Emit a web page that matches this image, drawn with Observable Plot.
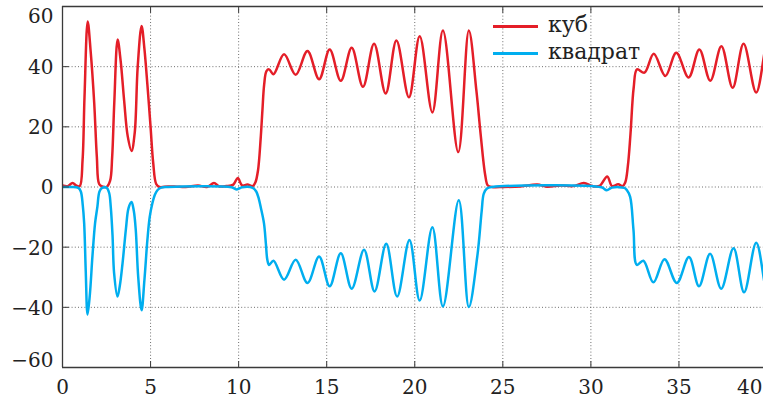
<!DOCTYPE html>
<html>
<head>
<meta charset="utf-8">
<script src="https://cdn.jsdelivr.net/npm/d3@7"></script>
<script src="https://cdn.jsdelivr.net/npm/@observablehq/plot@0.6"></script>
<style>
  html, body { margin: 0; padding: 0; background: white; overflow: hidden; }
  #wrap { position: relative; width: 763px; height: 402px; }
  .legend { position: absolute; left: 493px; top: 8px; font-family: "DejaVu Serif", serif; font-size: 22px; color: #222; }
  .legend .row { position: relative; height: 27px; }
  .legend .sw { position: absolute; left: 0; width: 45px; height: 2.6px; }
  .legend .lb { position: absolute; left: 55px; line-height: 27px; top: 3px; white-space: nowrap; }
</style>
</head>
<body>
<div id="wrap"></div>
<script>
// ---- data ----
const seriesNames = ["куб", "квадрат"];
const seriesColors = ["#e41e28", "#00aeef"];

const cubeX = [0,0.3,0.57,0.8,0.98,1.14,1.25,1.43,1.6,1.8,1.95,2.08,2.25,2.5,2.7,2.82,2.94,3.13,3.3,3.5,3.7,3.92,4.1,4.27,4.49,4.65,4.82,5.0,5.15,5.32,5.5,6.0,6.5,7.0,7.7,8.2,8.6,8.9,9.3,9.7,9.95,10.2,10.5,10.8,10.95,11.1,11.25,11.35,11.45,11.58,11.73,11.98,12.58,13.24,13.91,14.57,15.17,15.8,16.42,17.06,17.69,18.35,18.96,19.67,20.28,21.0,21.6,22.47,23.07,23.5,23.74,24.0,24.15,24.4,25,26,26.96,27.5,28.3,29,29.6,30.1,30.5,30.93,31.2,31.55,31.8,31.95,32.1,32.25,32.43,32.62,33.04,33.57,34.23,34.85,35.55,36.16,36.78,37.41,38.05,38.67,39.39,40.05,40.4];
const cubeY = [0.5,0.3,1.3,0.4,0.3,9,30,55,45,28,10,1,0.2,0,2,10,28,49,42,28.7,17,12,18,40,53.5,46,34,20,8,1,0,0.2,0.1,0,0.5,0,1.3,0.2,0.3,0.8,3,0.5,0.8,0.3,1.5,5.5,16,25.4,34,38.5,39.1,37.5,44.1,37.3,45.2,35.8,45.7,35.3,46.3,33.3,47.6,31.1,48.7,29.8,50.1,24.8,52,11.6,52,32,17.6,4,0.5,0,0,0.2,0.8,0.1,0.5,0.3,1.3,0.3,0.4,3.5,0.3,0.9,0.3,1.5,7,17.7,33,39.1,38,44.3,36.9,44.6,36.4,45.7,35.3,46.8,33,47.6,31.4,49,40];

const squareX = [0,0.5,0.9,1.04,1.15,1.23,1.32,1.42,1.55,1.7,1.85,1.98,2.1,2.25,2.5,2.65,2.74,2.84,2.93,3.12,3.25,3.41,3.6,3.75,3.92,4.05,4.16,4.3,4.49,4.65,4.82,4.95,5.1,5.25,5.4,5.6,6,9.6,9.9,10.2,10.8,11.0,11.15,11.25,11.44,11.55,11.63,11.73,11.98,12.58,13.24,13.91,14.57,15.17,15.8,16.42,17.12,17.72,18.38,19.0,19.7,20.28,21.0,21.6,22.5,23.07,23.55,23.8,23.92,24.1,24.4,30.6,30.9,31.2,31.9,32.04,32.23,32.42,32.61,32.98,33.55,34.18,34.88,35.57,36.14,36.77,37.4,38.1,38.7,39.39,40.05,40.4];
const squareY = [0,0,-0.3,-1.5,-6,-12,-28,-42.4,-36,-23,-12,-6.6,-1.5,-0.3,-0.2,-2,-6.6,-16,-28.6,-36.4,-33,-25.3,-14,-7,-5,-8,-14.3,-30,-41,-31,-17.6,-10,-5.5,-2.5,-1,-0.2,0,-0.1,-0.8,-0.1,-0.3,-1.5,-4,-6.6,-12.1,-19,-24.2,-25.9,-24.5,-30.8,-24.2,-31.9,-23.1,-33,-22,-33.8,-20.9,-34.7,-18.9,-36.4,-17.6,-37.7,-13.4,-39.7,-4.4,-39.9,-23.1,-8,-2.2,-0.5,0,-0.1,-1.1,-0.2,-0.3,-1,-3.3,-14.3,-25.9,-24.5,-31.7,-24,-31.9,-23.3,-33,-22.2,-33.8,-20.4,-35,-18.5,-36,-28];

const xTicks = [0,5,10,15,20,25,30,35,40];
const yTicks = [-60,-40,-20,0,20,40,60];
const yTickLabels = ["\u221260","\u221240","\u221220","0","20","40","60"];
const xTickLabels = ["0","5","10","15","20","25","30","35","40"];

// ---- build ----
const cube = cubeX.map((x, i) => ({x, y: cubeY[i]}));
const square = squareX.map((x, i) => ({x, y: squareY[i]}));
const axisColor = "#3a3a3a";
const gridStyle = {stroke: "#6e6e6e", strokeOpacity: 1, strokeWidth: 1, strokeDasharray: "1,2.2"};
const tickShape = {draw(ctx, l) { ctx.moveTo(0, 0); ctx.lineTo(0, -l); }};
const yLab = d => yTickLabels[yTicks.indexOf(d)];
const xLab = d => xTickLabels[xTicks.indexOf(d)];
const labelStyle = {fill: "#222", lineAnchor: "middle"};

const chart = Plot.plot({
  width: 763,
  height: 402,
  marginLeft: 62,
  marginRight: -3.5,
  marginTop: 6,
  marginBottom: 35,
  x: {domain: [0, 40], axis: null},
  y: {domain: [-60, 60], axis: null},
  style: {fontFamily: "'DejaVu Serif', serif", fontSize: "20px", background: "white", color: "#222", overflow: "hidden"},
  marks: [
    Plot.gridX(xTicks, gridStyle),
    Plot.gridY(yTicks, gridStyle),
    Plot.line(cube, {x: "x", y: "y", stroke: seriesColors[0], strokeWidth: 2.5, curve: "catmull-rom", clip: true}),
    Plot.line(square, {x: "x", y: "y", stroke: seriesColors[1], strokeWidth: 2.5, curve: "catmull-rom", clip: true}),
    // frame
    Plot.ruleX([0], {stroke: axisColor, strokeWidth: 1.3}),
    Plot.ruleY([-60], {stroke: axisColor, strokeWidth: 1.3}),
    Plot.ruleY([60], {stroke: axisColor, strokeWidth: 1.3}),
    // inward ticks
    Plot.vector(xTicks, {x: d => d, y: -60, length: 6, rotate: 0, anchor: "start", stroke: axisColor, strokeWidth: 1, shape: tickShape}),
    Plot.vector(xTicks, {x: d => d, y: 60, length: 6, rotate: 180, anchor: "start", stroke: axisColor, strokeWidth: 1, shape: tickShape}),
    Plot.vector(yTicks, {x: 0, y: d => d, length: 6, rotate: 90, anchor: "start", stroke: axisColor, strokeWidth: 1, shape: tickShape}),
    // x labels
    Plot.text(xTicks.slice(0, -1), {x: d => d, frameAnchor: "bottom", dy: 20, text: xLab, ...labelStyle}),
    Plot.text(xTicks.slice(-1), {x: d => d, frameAnchor: "bottom", dy: 20, dx: -4.5, textAnchor: "end", text: xLab, ...labelStyle}),
    // y labels
    Plot.text(yTicks.slice(1, -1), {y: d => d, frameAnchor: "left", dx: -9, dy: 1, textAnchor: "end", text: yLab, ...labelStyle}),
    Plot.text(yTicks.slice(-1), {y: d => d, frameAnchor: "left", dx: -9, dy: 10.5, textAnchor: "end", text: yLab, ...labelStyle}),
    Plot.text(yTicks.slice(0, 1), {y: d => d, frameAnchor: "left", dx: -9, dy: -6.5, textAnchor: "end", text: yLab, ...labelStyle})
  ]
});

const wrap = document.getElementById("wrap");
wrap.appendChild(chart);

const legend = document.createElement("div");
legend.className = "legend";
seriesNames.forEach((name, i) => {
  const row = document.createElement("div");
  row.className = "row";
  const sw = document.createElement("div");
  sw.className = "sw";
  sw.style.background = seriesColors[i];
  sw.style.top = "17px";
  const lb = document.createElement("div");
  lb.className = "lb";
  lb.textContent = name;
  row.appendChild(sw);
  row.appendChild(lb);
  legend.appendChild(row);
});
wrap.appendChild(legend);
</script>
</body>
</html>
